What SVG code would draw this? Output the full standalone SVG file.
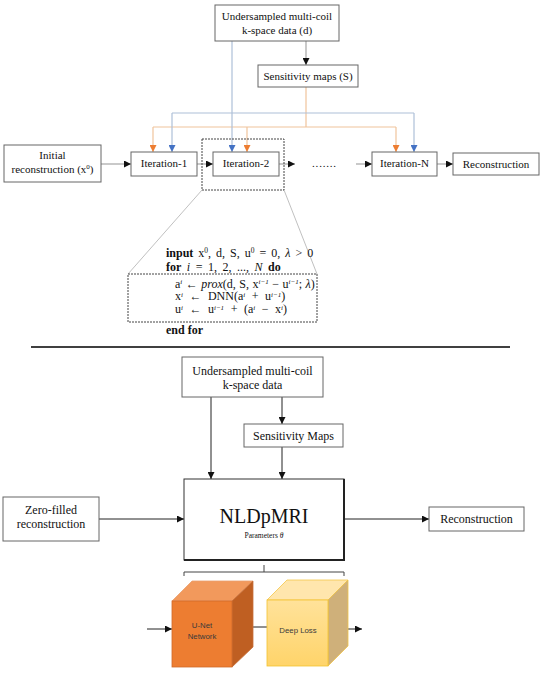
<svg xmlns="http://www.w3.org/2000/svg" width="550" height="685" viewBox="0 0 550 685">
<style>
.box{fill:#fff;stroke:#666;stroke-width:1}
.t{font-family:"Liberation Serif","Times New Roman",serif;fill:#111;text-anchor:middle}
.s11{font-size:11px}
.s12{font-size:12px}
.alg{font-family:"Liberation Serif","Times New Roman",serif;font-size:12px;fill:#111}
.b{font-weight:bold}
.i{font-style:italic}
.gray{stroke:#a6a6a6;stroke-width:1.2;fill:none}
.org{stroke:#f0c49c;stroke-width:1.2;fill:none}
.blu{stroke:#adc0d8;stroke-width:1.2;fill:none}
.blk{stroke:#222;stroke-width:1;fill:none}
.dash{fill:none;stroke:#444;stroke-width:1;stroke-dasharray:2 1}
.cube{font-family:"Liberation Sans",Arial,sans-serif;font-size:7.8px;fill:#3a3a3a;text-anchor:middle}
</style>
<defs>
<marker id="ah" markerUnits="userSpaceOnUse" markerWidth="7" markerHeight="7" refX="7" refY="3.5" orient="auto"><path d="M0,0 L7,3.5 L0,7 z" fill="#111"/></marker>
<marker id="ao" markerUnits="userSpaceOnUse" markerWidth="7" markerHeight="7" refX="7" refY="3.5" orient="auto"><path d="M0,0 L7,3.5 L0,7 z" fill="#ed7d31"/></marker>
<marker id="ab" markerUnits="userSpaceOnUse" markerWidth="7" markerHeight="7" refX="7" refY="3.5" orient="auto"><path d="M0,0 L7,3.5 L0,7 z" fill="#4472c4"/></marker>
<linearGradient id="yf" x1="0" y1="0" x2="0" y2="1"><stop offset="0" stop-color="#ffe29a"/><stop offset="1" stop-color="#ffd46a"/></linearGradient>
</defs>

<g id="connectors">
<path class="gray" d="M306,41 V65" marker-end="url(#ah)"/>
<path class="org" d="M306,87 V127 M153,127 H396"/>
<path class="org" d="M153,127 V152" marker-end="url(#ao)"/>
<path class="org" d="M247,127 V152" marker-end="url(#ao)"/>
<path class="org" d="M396,127 V152" marker-end="url(#ao)"/>
<path class="blu" d="M172,113 H414"/>
<path class="blu" d="M232,41 V152" marker-end="url(#ab)"/>
<path class="blu" d="M172,113 V152" marker-end="url(#ab)"/>
<path class="blu" d="M414,113 V152" marker-end="url(#ab)"/>
<path class="gray" d="M101,164 H131" marker-end="url(#ah)"/>
<path class="gray" d="M197,164 H213" marker-end="url(#ah)"/>
<path class="gray" d="M279,164 H295" marker-end="url(#ah)"/>
<path class="gray" d="M356,164 H372" marker-end="url(#ah)"/>
<path class="gray" d="M437,164 H453" marker-end="url(#ah)"/>
<path d="M202,190 L128,274 M284,190 L317,274" stroke="#b0b0b0" stroke-width="0.8" fill="none"/>
<path class="blk" d="M211,397 V479" marker-end="url(#ah)"/>
<path class="blk" d="M282,397 V424" marker-end="url(#ah)"/>
<path class="blk" d="M282,447 V479" marker-end="url(#ah)"/>
<path class="blk" d="M99,519 H184" marker-end="url(#ah)"/>
<path class="blk" d="M344,519 H429" marker-end="url(#ah)"/>
<path class="blk" d="M147,629 H172" marker-end="url(#ah)"/>
<path class="blk" d="M243,627 H267"/>
<path class="blk" d="M337,629 H362" marker-end="url(#ah)"/>
<path d="M184,576 V572 H344 V576 M264,572 V565" stroke="#444" stroke-width="1" fill="none"/>
</g>

<g id="kspace-top">
<rect class="box" x="215" y="5" width="124" height="36"/>
<text class="t s11" x="277" y="20">Undersampled multi-coil</text>
<text class="t s11" x="277" y="34">k-space data (d)</text>
</g>
<g id="sens-top">
<rect class="box" x="258" y="65" width="100" height="22"/>
<text class="t s11" x="308" y="80">Sensitivity maps (S)</text>
</g>
<g id="initial">
<rect class="box" x="4" y="145" width="97" height="37"/>
<text class="t s11" x="52.5" y="159">Initial</text>
<text class="t s11" x="52.5" y="173">reconstruction (x<tspan dy="-4" font-size="7">0</tspan><tspan dy="4">)</tspan></text>
</g>
<g id="iter1">
<rect class="box" x="131" y="152" width="66" height="24"/>
<text class="t s11" x="164" y="167">Iteration-1</text>
</g>
<g id="iter2">
<rect class="box" x="213" y="152" width="66" height="24"/>
<text class="t s11" x="246" y="167">Iteration-2</text>
<rect class="dash" x="202" y="139" width="82" height="51"/>
</g>
<g id="dots">
<text class="t s11" x="324.5" y="167" letter-spacing="0.8">.......</text>
</g>
<g id="iterN">
<rect class="box" x="372" y="152" width="65" height="24"/>
<text class="t s11" x="404.5" y="167">Iteration-N</text>
</g>
<g id="recon-top">
<rect class="box" x="453" y="153" width="86" height="22"/>
<text class="t s11" x="496" y="168">Reconstruction</text>
</g>

<g id="algorithm">
<rect class="dash" x="128" y="274" width="189" height="48"/>
<text class="alg" x="166" y="257" word-spacing="2"><tspan class="b">input</tspan> x<tspan dy="-4" font-size="7.5">0</tspan><tspan dy="4">, d, S, u</tspan><tspan dy="-4" font-size="7.5">0</tspan><tspan dy="4"> = 0, </tspan><tspan class="i">λ</tspan> &gt; 0</text>
<text class="alg" x="166" y="270.5" word-spacing="2.5"><tspan class="b">for</tspan> <tspan class="i">i</tspan> = 1, 2, ..., <tspan class="i">N</tspan> <tspan class="b">do</tspan></text>
<text class="alg" x="175" y="287.5" word-spacing="0.5">a<tspan dy="-3.5" font-size="7" class="i">i</tspan><tspan dy="3.5"> ← </tspan><tspan class="i">prox</tspan>(d, S, x<tspan dy="-3.5" font-size="7" class="i">i−1</tspan><tspan dy="3.5"> − u</tspan><tspan dy="-3.5" font-size="7" class="i">i−1</tspan><tspan dy="3.5">; </tspan><tspan class="i">λ</tspan>)</text>
<text class="alg" x="175" y="300" word-spacing="3.5">x<tspan dy="-3.5" font-size="7" class="i">i</tspan><tspan dy="3.5"> ← DNN(a</tspan><tspan dy="-3.5" font-size="7" class="i">i</tspan><tspan dy="3.5"> + u</tspan><tspan dy="-3.5" font-size="7" class="i">i−1</tspan><tspan dy="3.5">)</tspan></text>
<text class="alg" x="175" y="313" word-spacing="3.5">u<tspan dy="-3.5" font-size="7" class="i">i</tspan><tspan dy="3.5"> ← u</tspan><tspan dy="-3.5" font-size="7" class="i">i−1</tspan><tspan dy="3.5"> + (a</tspan><tspan dy="-3.5" font-size="7" class="i">i</tspan><tspan dy="3.5"> − x</tspan><tspan dy="-3.5" font-size="7" class="i">i</tspan><tspan dy="3.5">)</tspan></text>
<text class="alg b" x="166" y="334">end for</text>
</g>

<g id="separator">
<line x1="31" y1="347" x2="510" y2="347" stroke="#000" stroke-width="1.3"/>
</g>

<g id="kspace-bottom">
<rect class="box" x="182" y="357" width="141" height="40"/>
<text class="t s12" x="252.5" y="375">Undersampled multi-coil</text>
<text class="t s12" x="252.5" y="389">k-space data</text>
</g>
<g id="sens-bottom">
<rect class="box" x="244" y="424" width="99" height="23"/>
<text class="t s12" x="293.5" y="440">Sensitivity Maps</text>
</g>
<g id="zerofilled">
<rect class="box" x="3" y="497" width="96" height="44"/>
<text class="t s12" x="51" y="514">Zero-filled</text>
<text class="t s12" x="51" y="528">reconstruction</text>
</g>
<g id="nldpmri">
<rect x="184" y="479" width="160" height="81" fill="#fff" stroke="#333" stroke-width="1"/>
<path d="M344,479 V560 H184" stroke="#222" stroke-width="2" fill="none"/>
<text class="t" x="264" y="523" font-size="20">NLDpMRI</text>
<text class="t" x="264" y="538" font-size="7.5">Parameters <tspan class="i">θ</tspan></text>
</g>
<g id="recon-bottom">
<rect class="box" x="429" y="507" width="95" height="24"/>
<text class="t s12" x="476.5" y="523">Reconstruction</text>
</g>

<g id="unet">
<polygon points="172,601 192,581 253,581 232,601" fill="#f2995c" stroke="#e8a070" stroke-width="0.8"/>
<polygon points="232,601 253,581 253,647 232,667" fill="#bf5f22" stroke="#c8703a" stroke-width="0.8"/>
<rect x="172" y="601" width="60" height="66" fill="#ed7d31" stroke="#d0692a" stroke-width="0.8"/>
<text class="cube" x="202" y="628">U-Net</text>
<text class="cube" x="202" y="639">Network</text>
</g>
<g id="deeploss">
<polygon points="267,600 287,580 348,580 328,600" fill="#ffe6ad" stroke="#f4c64a" stroke-width="0.8"/>
<polygon points="328,600 348,580 348,646 328,666" fill="#cfb07a" stroke="#f0c44a" stroke-width="0.8"/>
<rect x="267" y="600" width="61" height="66" fill="url(#yf)" stroke="#f2c230" stroke-width="0.8"/>
<text class="cube" x="298" y="633">Deep Loss</text>
</g>
</svg>
